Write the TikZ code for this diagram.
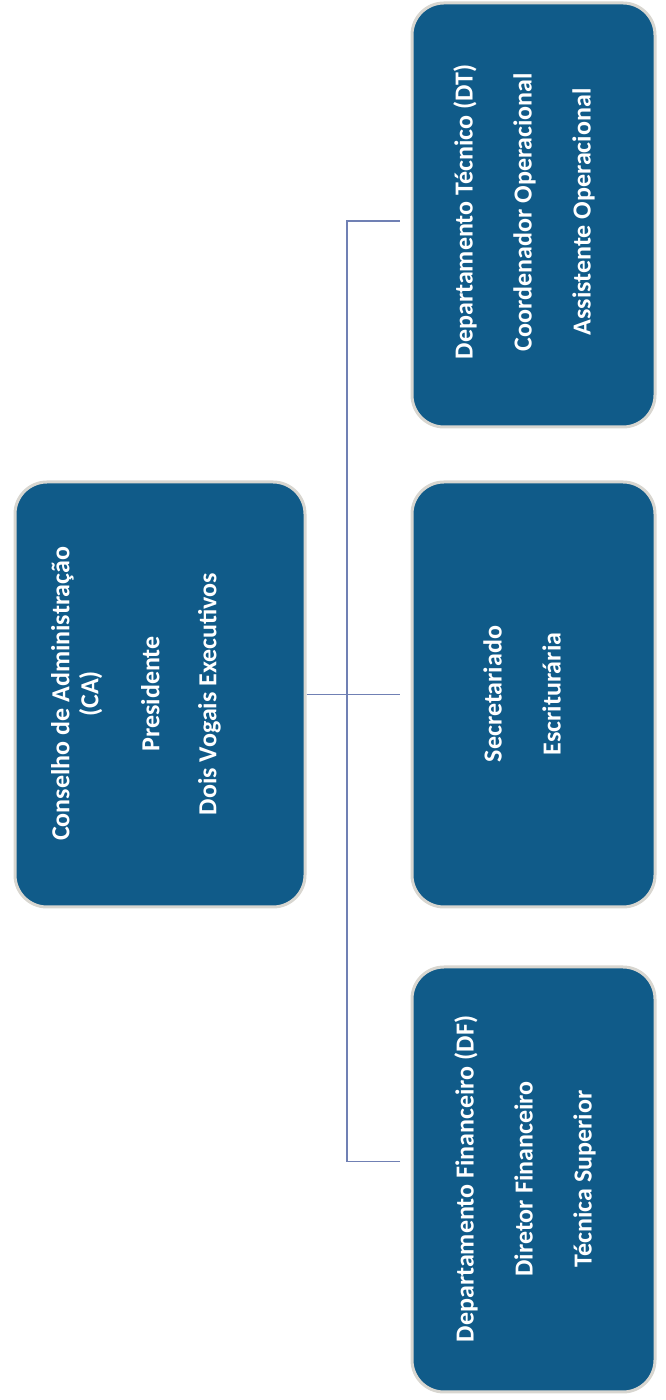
\documentclass[tikz,border=0pt]{standalone}
\usepackage{fontspec}
\setmainfont{Carlito}
\usetikzlibrary{calc}
\definecolor{boxblue}{RGB}{16,91,137}
\definecolor{linecol}{RGB}{112,128,180}
\definecolor{halo}{RGB}{216,214,208}
\begin{document}
\begin{tikzpicture}[x=1pt,y=1pt,
  orgbox/.style={fill=boxblue, rounded corners=32pt, inner sep=0pt,
    draw=halo, line width=3pt},
  boxtext/.style={rotate=90, text=white, align=center, inner sep=0pt,
    font=\bfseries\fontsize{26}{29}\selectfont},
  conn/.style={draw=linecol, line width=1.4pt}]
\useasboundingbox (0,0) rectangle (665,1400);
% boxes (pixel coords, y measured from top)
\node[orgbox, minimum width=290pt, minimum height=425pt] (ca) at (160,{1400-694.5}) {};
\node[orgbox, minimum width=243pt, minimum height=424pt] (dt) at (533.5,{1400-215}) {};
\node[orgbox, minimum width=243pt, minimum height=425pt] (sec) at (533.5,{1400-694.5}) {};
\node[orgbox, minimum width=243pt, minimum height=425pt] (df) at (533.5,{1400-1179.5}) {};
% texts
\node[boxtext] (catext) at (136,{1400-694}) {Conselho de Administração\\(CA)\\[32pt]Presidente\\[28pt]Dois Vogais Executivos};
\node[boxtext] (dttext) at (524,{1400-212}) {Departamento Técnico (DT)\\[30pt]Coordenador Operacional\\[30pt]Assistente Operacional};
\node[boxtext] (sectext) at (522,{1400-694}) {Secretariado\\[30pt]Escriturária};
\node[boxtext] (dftext) at (525,{1400-1179}) {Departamento Financeiro (DF)\\[30pt]Diretor Financeiro\\[30pt]Técnica Superior};
% connectors
\coordinate (bus) at (347,{1400-694});
\draw[conn] (ca.east) -- ([xshift=-11pt]sec.west);
\draw[conn] ($(dt.west)+(-11pt,-6pt)$) -| (bus) |- ($(df.west)+(-11pt,18pt)$);
\end{tikzpicture}
\end{document}
